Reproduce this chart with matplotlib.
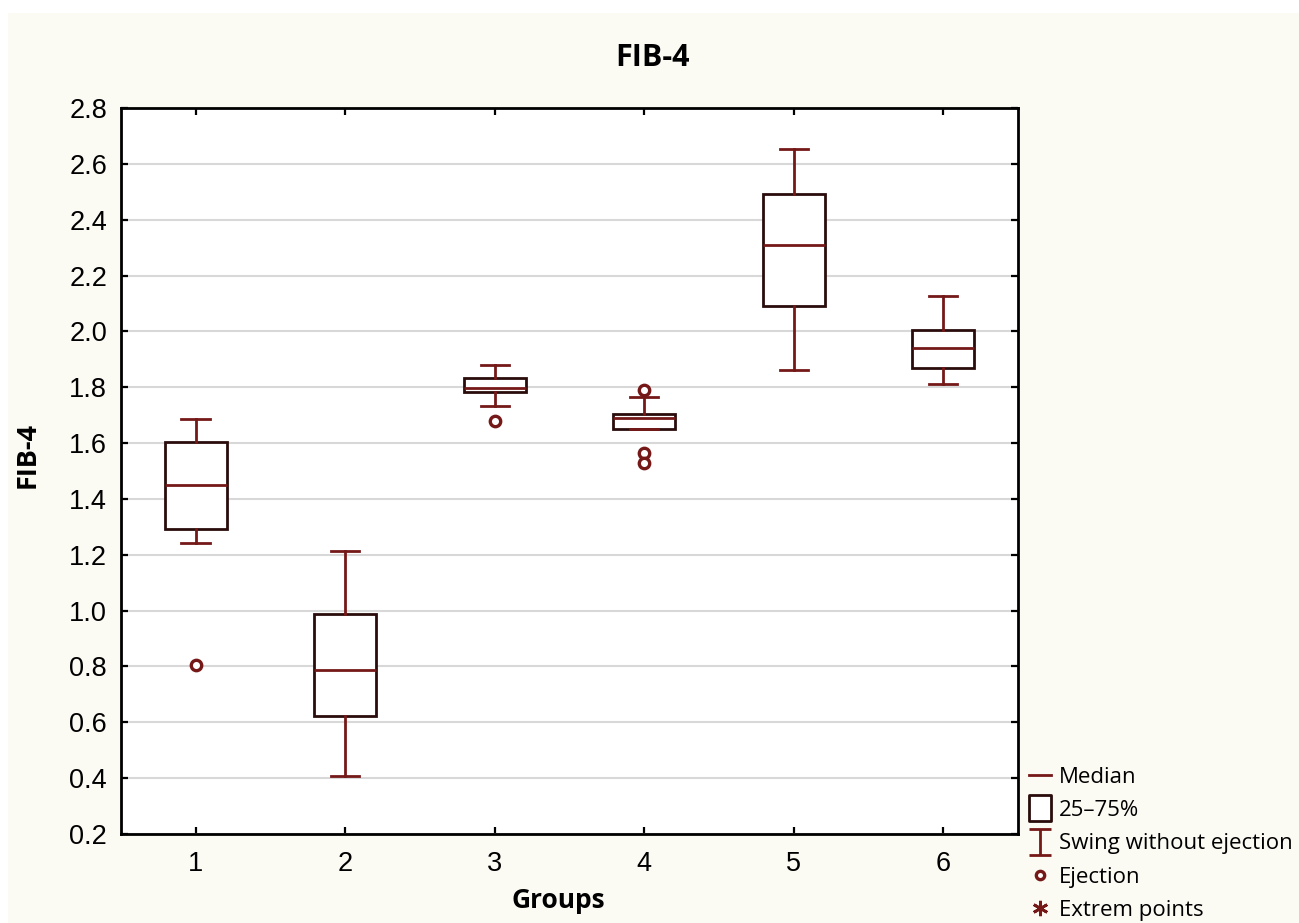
import matplotlib
matplotlib.use("Agg")
import matplotlib.pyplot as plt
from matplotlib.lines import Line2D
from matplotlib.path import Path
from matplotlib.patches import Rectangle

# -----------------------------
# Data
# -----------------------------
groups = [1, 2, 3, 4, 5, 6]
whisker_low = [1.242, 0.408, 1.733, 1.650, 1.862, 1.811]
q1 = [1.292, 0.623, 1.783, 1.650, 2.091, 1.869]
median = [1.450, 0.787, 1.797, 1.690, 2.309, 1.940]
q3 = [1.604, 0.988, 1.833, 1.704, 2.492, 2.005]
whisker_high = [1.686, 1.213, 1.879, 1.765, 2.653, 2.127]
outliers = [[0.805], [], [1.679], [1.790, 1.564, 1.529], [], []]

y_ticks = [0.2, 0.4, 0.6, 0.8, 1.0, 1.2, 1.4, 1.6, 1.8, 2.0, 2.2, 2.4, 2.6, 2.8]
legend_labels = ["Median", "25\u201375%", "Swing without ejection", "Ejection", "Extrem points"]

# colours
BG = "#FBFAF3"
BOX_EDGE = "#2A0C0C"
MAROON = "#751818"
GRID = "#D8D8D8"

fig = plt.figure(figsize=(12.99, 9.23), dpi=100, facecolor="white")
fig.patches.append(Rectangle((0.006, 0), 1, 0.986, transform=fig.transFigure,
                             facecolor=BG, edgecolor="none", zorder=-10))

ax = fig.add_axes([0.0931, 0.0964, 0.6906, 0.7866])
ax.set_facecolor("white")

stats = []
for i, g in enumerate(groups):
    stats.append({
        "med": median[i], "q1": q1[i], "q3": q3[i],
        "whislo": whisker_low[i], "whishi": whisker_high[i],
        "fliers": outliers[i], "label": str(g),
    })

ax.bxp(stats, positions=groups, widths=0.415, capwidths=0.19,
       patch_artist=True, showfliers=True,
       boxprops=dict(facecolor="white", edgecolor=BOX_EDGE, linewidth=2.0),
       medianprops=dict(color=MAROON, linewidth=2.0),
       whiskerprops=dict(color=MAROON, linewidth=2.0),
       capprops=dict(color=MAROON, linewidth=2.0),
       flierprops=dict(marker="o", markersize=7.5, markerfacecolor="white",
                       markeredgecolor=MAROON, markeredgewidth=2.4),
       zorder=3)

ax.set_xlim(0.5, 6.5)
ax.set_ylim(0.2, 2.8)
ax.set_yticks(y_ticks)
ax.set_yticklabels([f"{v:.1f}" for v in y_ticks])
ax.set_xticks(groups)
ax.set_xticklabels([str(g) for g in groups])

ax.yaxis.grid(True, color=GRID, linewidth=1.5, zorder=0)
ax.set_axisbelow(True)
for s in ax.spines.values():
    s.set_linewidth(2.0)
    s.set_color("black")
ax.tick_params(direction="in", length=5, width=1.6, top=True, right=True,
               labelsize=19.5, pad=10)
for lab in ax.get_xticklabels() + ax.get_yticklabels():
    lab.set_fontfamily("Liberation Sans")
ax.tick_params(axis="x", pad=12)

ax.set_xlabel("Groups", fontsize=19, fontweight="bold", family="Open Sans", va="center")
ax.set_ylabel("FIB-4", fontsize=19.5, fontweight="bold", family="Open Sans", va="center")
ax.xaxis.set_label_coords(0.487, -0.091)
ax.yaxis.set_label_coords(-0.104, 0.522)
fig.text(0.502, 0.937, "FIB-4", ha="center", va="center", fontsize=22,
         fontweight="bold", family="Open Sans")

# legend handles (drawn like the original software)
ibeam = Path([(-0.8, -1), (0.8, -1), (0, -1), (0, 1), (-0.8, 1), (0.8, 1)],
             [Path.MOVETO, Path.LINETO, Path.MOVETO, Path.LINETO, Path.MOVETO, Path.LINETO])
box = Path([(-0.85, -1), (0.85, -1), (0.85, 1), (-0.85, 1), (-0.85, -1)],
           [Path.MOVETO, Path.LINETO, Path.LINETO, Path.LINETO, Path.CLOSEPOLY])
handles = [
    Line2D([], [], color=MAROON, linewidth=2.0),
    Line2D([], [], linestyle="none", marker=box, markersize=19,
           markerfacecolor="white", markeredgecolor=BOX_EDGE, markeredgewidth=2.0),
    Line2D([], [], linestyle="none", marker=ibeam, markersize=19,
           markerfacecolor="none", markeredgecolor=MAROON, markeredgewidth=2.0),
    Line2D([], [], linestyle="none", marker="o", markersize=6,
           markerfacecolor="white", markeredgecolor=MAROON, markeredgewidth=2.4),
    Line2D([], [], linestyle="none", marker=(6, 2, 0), markersize=11,
           markeredgecolor=MAROON, markeredgewidth=2.0),
]
fig.legend(handles, legend_labels, loc="upper left",
           bbox_to_anchor=(1020 / 1299, 1 - 758 / 923), frameon=False,
           handlelength=1.0, handletextpad=0.35, labelspacing=0.55,
           borderaxespad=0, prop={"family": "Open Sans", "size": 16})

fig.savefig("out.png", dpi=100, facecolor=fig.get_facecolor())
